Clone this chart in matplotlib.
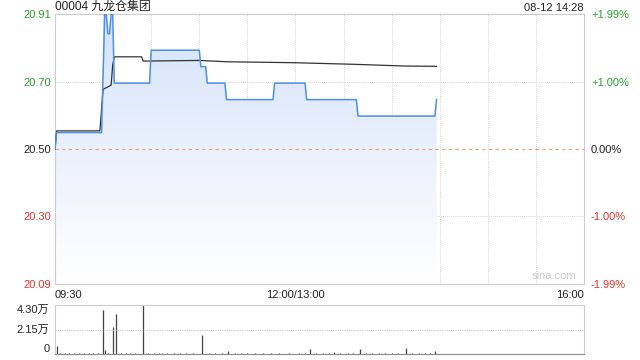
import numpy as np
import matplotlib
matplotlib.use("Agg")
import matplotlib.pyplot as plt
from matplotlib.colors import LinearSegmentedColormap

plt.rcParams['font.family'] = ['Liberation Sans', 'Noto Sans CJK SC', 'DejaVu Sans']

# minutes since 09:30 (lunch break removed, 12:00/13:00 = 150, 16:00 = 330)
price_t = [0, 1, 29, 31, 32, 33, 34, 35, 36, 37, 59, 60, 90, 91, 94, 95, 106, 107,
           136, 137, 156, 157, 188, 189, 237, 238]
price_v = [20.50, 20.55, 20.55, 20.91, 20.91, 20.85, 20.85, 20.91, 20.91, 20.70, 20.70,
           20.80, 20.80, 20.75, 20.75, 20.70, 20.70, 20.65, 20.65, 20.70, 20.70, 20.65,
           20.65, 20.60, 20.60, 20.65]

avg_t = [0, 1, 28, 30, 35, 36, 37, 54, 55, 90, 107, 150, 188, 218, 238]
avg_v = [20.50, 20.555, 20.555, 20.681, 20.694, 20.755, 20.78, 20.78, 20.767, 20.769,
         20.765, 20.762, 20.757, 20.752, 20.751]

vol_t = [1, 30, 31, 36, 38, 55, 92, 108, 159, 174, 190, 219, 237]
vol_v = [0.67, 3.89, 0.38, 2.33, 3.54, 4.30, 1.69, 0.23, 0.44, 0.15, 0.44, 0.53, 0.23]
small_t = [3, 6, 9, 12, 15, 18, 21, 24, 27, 33, 41, 44, 47, 50, 58, 62, 65, 67, 70, 74,
           78, 82, 86, 96, 100, 104, 112, 116, 120, 125, 130, 135, 140, 146, 152, 156,
           163, 167, 171, 178, 183, 186, 194, 198, 202, 206, 210, 214, 223, 227, 231, 234]
small_v = [0.06, 0.05, 0.08, 0.05, 0.06, 0.05, 0.07, 0.05, 0.06, 0.08, 0.06, 0.05, 0.07,
           0.05, 0.06, 0.05, 0.07, 0.10, 0.05, 0.06, 0.05, 0.07, 0.05, 0.06, 0.05, 0.07,
           0.05, 0.06, 0.05, 0.07, 0.05, 0.06, 0.05, 0.07, 0.05, 0.06, 0.05, 0.07, 0.05,
           0.06, 0.05, 0.07, 0.05, 0.06, 0.05, 0.07, 0.05, 0.06, 0.05, 0.07, 0.05, 0.06]

prev_close = 20.50
y_ticks = [20.09, 20.295, 20.50, 20.705, 20.91]
y_labels = ['20.09', '20.30', '20.50', '20.70', '20.91']
pct_labels = ['-1.99%', '-1.00%', '0.00%', '+1.00%', '+1.99%']
vol_ticks = [0, 2.15, 4.30]
vol_labels = ['0', '2.15万', '4.30万']

green = '#2ca02c'
red = '#e8332a'
grid_c = '#c8c8c8'
spine_c = '#cccccc'

fig = plt.figure(figsize=(6.4, 3.6), dpi=100)
ax = fig.add_axes([55 / 640, 1 - 284 / 360, 529 / 640, 270 / 360])
axv = fig.add_axes([55 / 640, 1 - 354 / 360, 529 / 640, 49 / 360])

# main panel
ax.set_xlim(0, 330)
ax.set_ylim(20.09, 20.91)
for x in range(30, 330, 30):
    ax.axvline(x, color=grid_c, lw=0.6, ls=(0, (1, 1.5)), zorder=1)
for y in [20.295, 20.705]:
    ax.axhline(y, color=grid_c, lw=0.6, ls=(0, (1, 1.5)), zorder=1)
ax.axhline(prev_close, color='#f0a078', lw=0.8, ls=(0, (3, 3)), zorder=2)

poly = ax.fill_between(price_t, price_v, 20.09, color='none', lw=0)
cmap = LinearSegmentedColormap.from_list('fill', ['#ffffff', '#d4e2fa'])
grad = np.linspace(0, 1, 256).reshape(-1, 1)
im = ax.imshow(grad, cmap=cmap, aspect='auto', origin='lower',
               extent=[0, price_t[-1], 20.09, 20.91], zorder=1.5)
im.set_clip_path(poly.get_paths()[0], transform=ax.transData)

ax.plot(price_t, price_v, color='#4d8ee8', lw=1.1, zorder=4)
ax.plot(avg_t, avg_v, color='#333333', lw=0.9, zorder=3)

ax.set_yticks(y_ticks)
ax.set_yticklabels(y_labels, fontsize=8)
for lab, c in zip(ax.get_yticklabels(), [red, red, '#222222', green, green]):
    lab.set_color(c)
ax.set_xticks([])
ax.tick_params(axis='y', length=0, pad=3)
for s in ax.spines.values():
    s.set_color(spine_c)
    s.set_linewidth(0.8)

ax2 = ax.twinx()
ax2.set_ylim(20.09, 20.91)
ax2.set_yticks(y_ticks)
ax2.set_yticklabels(pct_labels, fontsize=8)
for lab, c in zip(ax2.get_yticklabels(), [red, red, '#222222', green, green]):
    lab.set_color(c)
ax2.tick_params(axis='y', length=0, pad=5)
for s in ax2.spines.values():
    s.set_visible(False)

ax.text(0, 1.004, '00004 九龙仓集团', transform=ax.transAxes, fontsize=8.6,
        ha='left', va='bottom', color='#222222')
ax.text(1, 1.004, '08-12 14:28', transform=ax.transAxes, fontsize=8,
        ha='right', va='bottom', color='#222222')
ax.text(0.985, 0.012, 'sina.com', transform=ax.transAxes, fontsize=8,
        ha='right', va='bottom', color='#c8c8c8')

for x, lab, ha in [(0, '09:30', 'left'), (150, '12:00/13:00', 'center'), (330, '16:00', 'right')]:
    ax.text(x, -0.022, lab, transform=ax.get_xaxis_transform(), fontsize=8,
            ha=ha, va='top', color='#222222')

# volume panel
axv.set_xlim(0, 330)
axv.set_ylim(0, 4.30)
axv.vlines(small_t, 0, small_v, color='#444444', lw=0.8)
axv.vlines(vol_t, 0, vol_v, color='#444444', lw=0.9)
axv.axhline(2.15, color=grid_c, lw=0.8, ls=(0, (1, 1)))
axv.set_xticks([])
axv.set_yticks(vol_ticks)
axv.set_yticklabels(vol_labels, fontsize=8, color='#222222')
for lab, va in zip(axv.get_yticklabels(), ['bottom', 'center', 'top']):
    lab.set_va(va)
axv.tick_params(axis='y', length=0, pad=4)
for name, s in axv.spines.items():
    s.set_color(spine_c)
    s.set_linewidth(0.8)
    if name in ('top', 'left'):
        s.set_linestyle((0, (1, 1)))
axv.spines['bottom'].set_color('#888888')
axv.spines['bottom'].set_linestyle((0, (1, 1)))

fig.savefig('out.png', dpi=100)
